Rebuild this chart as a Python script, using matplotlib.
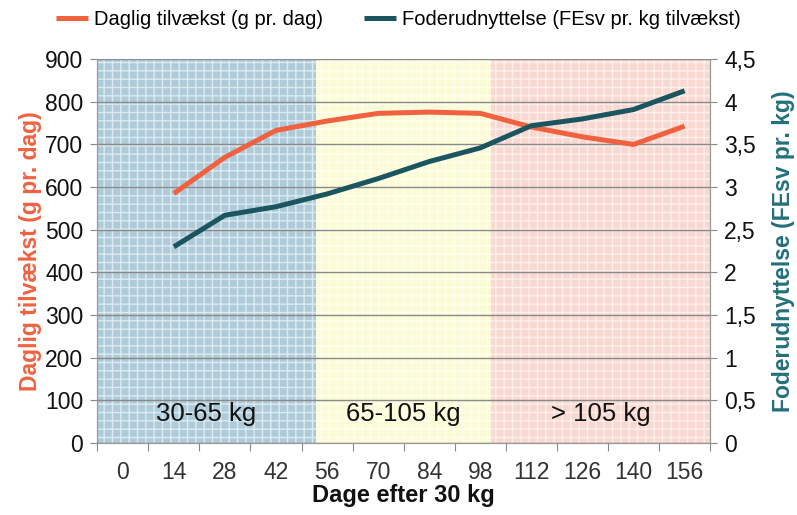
import numpy as np
import matplotlib
matplotlib.use("Agg")
import matplotlib.pyplot as plt

plt.rcParams['font.family'] = ['Liberation Sans', 'DejaVu Sans']
plt.rcParams['hatch.linewidth'] = 1.0

# data
dage = ["0", "14", "28", "42", "56", "70", "84", "98", "112", "126", "140", "156"]
tilvaekst = [np.nan, 585, 670, 733, 755, 773, 776, 773, 741, 718, 700, 743]
foder = [np.nan, 2.30, 2.67, 2.77, 2.92, 3.10, 3.30, 3.46, 3.72, 3.80, 3.91, 4.13]
perioder = ["30-65 kg", "65-105 kg", "> 105 kg"]
periode_graenser = [-0.5, 3.78, 7.2, 11.5]

orange = "#F0613F"
teal = "#1B5560"

fig = plt.figure(figsize=(7.97, 5.15), dpi=100)
ax = fig.add_axes([0.122, 0.140, 0.769, 0.745])
ax2 = ax.twinx()

x = np.arange(len(dage))

# baggrundsfelter
fills = [("#AFCBDA", "#DCEBF1"), ("#FBFBD6", "#FFFFF0"), ("#F8D8D0", "#FDEFEB")]
for i, (fc, hc) in enumerate(fills):
    ax.axvspan(periode_graenser[i], periode_graenser[i + 1], facecolor=fc,
               edgecolor=hc, hatch="++", linewidth=0, zorder=0)
    mid = (periode_graenser[i] + periode_graenser[i + 1]) / 2
    ax.text(mid, 68, perioder[i], ha="center", va="center", fontsize=18.5,
            color="#111111", zorder=3)

ax.set_ylim(0, 900)
ax.set_yticks(range(0, 901, 100))
ax.set_xlim(-0.5, 11.5)
ax.grid(axis="y", color="#8A8A8A", linewidth=1.0, zorder=1)
ax.set_axisbelow(False)

l1, = ax2.plot(x, tilvaekst, color=orange, lw=3.6, solid_capstyle="butt",
               label="Daglig tilvækst (g pr. dag)", zorder=4)
l2, = ax2.plot(x, np.array(foder) * 200, color=teal, lw=3.6, solid_capstyle="butt",
               label="Foderudnyttelse (FEsv pr. kg tilvækst)", zorder=4)
ax2.set_ylim(0, 900)
ax2.set_yticks(np.arange(0, 901, 100))
ax2.set_yticklabels(["0", "0,5", "1", "1,5", "2", "2,5", "3", "3,5", "4", "4,5"])

# x-akse: ticks mellem kategorier, labels i midten
ax.set_xticks(np.arange(-0.5, 12, 1))
ax.set_xticklabels([])
ax.set_xticks(x, minor=True)
ax.set_xticklabels(dage, minor=True)
ax.tick_params(axis="x", which="major", length=6, color="#888888", direction="out")
ax.tick_params(axis="x", which="minor", length=0, pad=13, labelsize=16.5, labelcolor="#333333")
ax.tick_params(axis="y", length=5, color="#888888", labelsize=16.5, labelcolor="#111111", pad=5)
ax2.tick_params(axis="y", length=5, color="#888888", labelsize=16.5, labelcolor="#111111", pad=5)

for a in (ax, ax2):
    for s in a.spines.values():
        s.set_color("#999999")
    a.spines["top"].set_visible(False)

ax.set_ylabel("Daglig tilvækst (g pr. dag)", color=orange, fontsize=16.5,
              fontweight="bold", labelpad=2)
ax2.set_ylabel("Foderudnyttelse (FEsv pr. kg)", color="#23707A", fontsize=16.5,
               fontweight="bold", labelpad=12)
ax.set_xlabel("Dage efter 30 kg", fontsize=17, fontweight="bold", color="#111111", labelpad=0)

fig.legend(handles=[l1, l2], loc="upper center", bbox_to_anchor=(0.5, 1.015), ncol=2,
           frameon=False, fontsize=14.5, handlelength=1.6, handletextpad=0.3,
           columnspacing=2.0)

fig.savefig("out.png", dpi=100)
